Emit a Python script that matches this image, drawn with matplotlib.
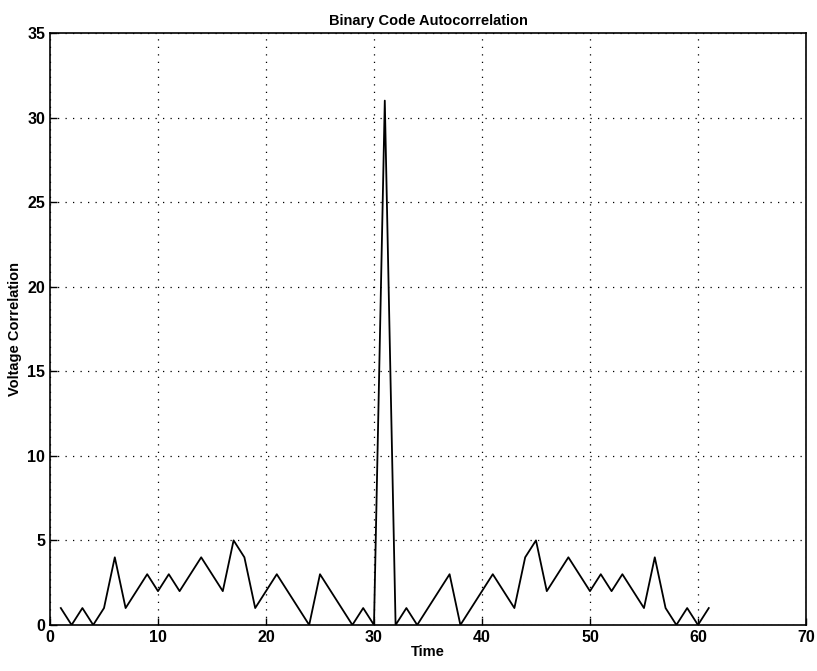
import matplotlib
matplotlib.use('Agg')
import matplotlib.pyplot as plt
import numpy as np

# lag index and autocorrelation magnitude
time = np.arange(1, 62)
half = [1, 0, 1, 0, 1, 4, 1, 2, 3, 2, 3, 2, 3, 4, 3, 2, 5, 4, 1, 2,
        3, 2, 1, 0, 3, 2, 1, 0, 1, 0]
peak = [31]
corr = half + peak + half[::-1]

plt.rcParams['font.family'] = ['Liberation Sans', 'DejaVu Sans']

fig = plt.figure(figsize=(8.17, 6.71), dpi=100)
ax = fig.add_axes([0.0612, 0.0686, 0.9253, 0.8823])

ax.plot(time, corr, color='black', linewidth=1.3)

ax.set_xlim(0, 70)
ax.set_ylim(0, 35)
ax.set_xticks(np.arange(0, 71, 10))
ax.set_yticks(np.arange(0, 36, 5))
ax.grid(True, color='black', linestyle=(0, (1, 5)), linewidth=0.9)
ax.tick_params(direction='in', length=5, labelsize=11.5, width=1)
for lbl in ax.get_xticklabels() + ax.get_yticklabels():
    lbl.set_fontweight('bold')
for s in ax.spines.values():
    s.set_linewidth(1.2)

ax.set_title('Binary Code Autocorrelation', fontsize=10.5, fontweight='bold', pad=6)
ax.set_xlabel('Time', fontsize=10.5, fontweight='bold', labelpad=0)
ax.set_ylabel('Voltage Correlation', fontsize=10.5, fontweight='bold', labelpad=4)

fig.savefig('out.png', dpi=100)
